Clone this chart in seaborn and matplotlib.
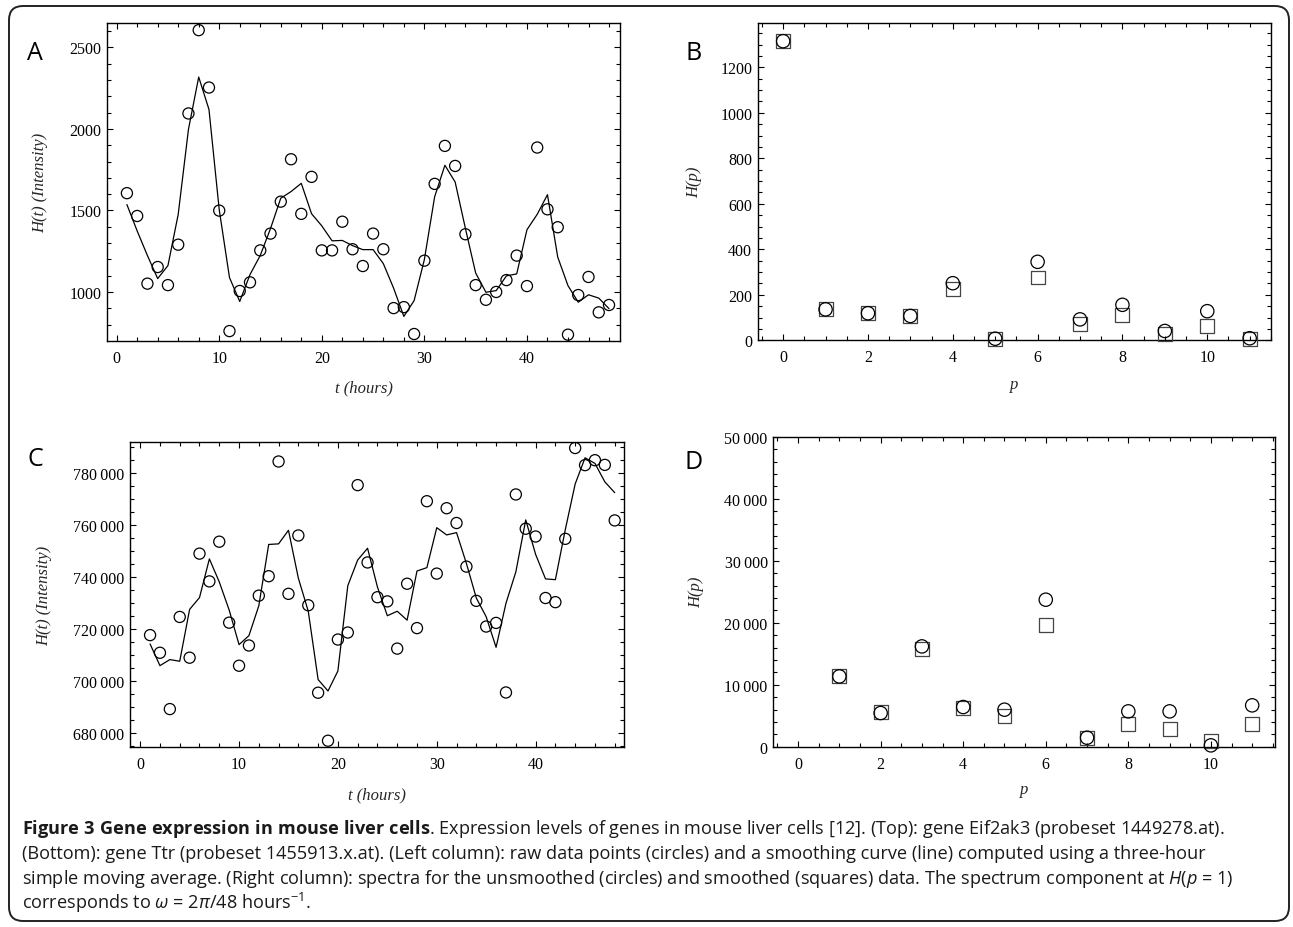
import numpy as np
import pandas as pd
import matplotlib
matplotlib.use("Agg")
import matplotlib.pyplot as plt
import matplotlib.ticker as mticker
from matplotlib.patches import FancyBboxPatch
from matplotlib.transforms import IdentityTransform
import seaborn as sns

# ---- data ----
hours = list(range(1, 49))

# top row: gene Eif2ak3, intensity per hour
eif2ak3 = [1606, 1466, 1051, 1153, 1042, 1290, 2095, 2606, 2254, 1499,
           760, 1006, 1059, 1255, 1358, 1554, 1814, 1479, 1706, 1255,
           1255, 1431, 1262, 1159, 1358, 1262, 901, 907, 742, 1192,
           1663, 1896, 1773, 1354, 1042, 952, 1000, 1073, 1223, 1036,
           1886, 1507, 1397, 738, 981, 1092, 875, 920]

# bottom row: gene Ttr
ttr = [717600, 710800, 689100, 724600, 708900, 749000, 738300, 753600, 722400, 705800,
       713600, 732800, 740300, 784500, 733500, 756000, 729100, 695400, 676900, 715900,
       718600, 775400, 745600, 732200, 730600, 712400, 737400, 720300, 769200, 741300,
       766500, 760800, 744000, 730800, 720900, 722300, 695500, 771800, 758600, 755600,
       731900, 730300, 754700, 789700, 783100, 785000, 783200, 761800]

# spectra (circles = unsmoothed, squares = smoothed)
p_top = list(range(0, 12))
spec_top_raw = [1315, 136, 119, 107, 251, 7, 345, 92, 156, 41, 128, 9]
spec_top_smooth = [1315, 136, 119, 107, 227, 4, 276, 70, 113, 26, 63, 7]

p_bot = list(range(1, 12))
spec_bot_raw = [11340, 5430, 16180, 6400, 5970, 23710, 1450, 5700, 5700, 215, 6670]
spec_bot_smooth = [11450, 5540, 15700, 6240, 5000, 19620, 1450, 3600, 2800, 900, 3600]

# three-hour simple moving average (as in the caption)
top_df = pd.DataFrame({"t": hours, "H": eif2ak3})
top_df["smooth"] = top_df["H"].rolling(3, center=True, min_periods=1).mean()
bot_df = pd.DataFrame({"t": hours, "H": ttr})
bot_df["smooth"] = bot_df["H"].rolling(3, center=True, min_periods=1).mean()

# ---- style ----
sns.set_theme(style="ticks")
plt.rcParams["font.family"] = ["Liberation Serif", "DejaVu Serif"]
plt.rcParams["mathtext.fontset"] = "custom"
plt.rcParams["mathtext.rm"] = "Open Sans"
plt.rcParams["mathtext.it"] = "Open Sans:italic"
plt.rcParams["mathtext.bf"] = "Open Sans:bold"

W, H = 1293, 928
fig = plt.figure(figsize=(W / 100, H / 100), dpi=100)
fig.patch.set_facecolor("white")

# rounded frame around everything
frame = FancyBboxPatch((9, 6), 1280, 915, boxstyle="round,pad=0,rounding_size=14",
                       transform=IdentityTransform(), fill=False,
                       edgecolor="#222222", linewidth=1.4)
fig.add_artist(frame)


def make_axes(x0, y0, x1, y1):
    return fig.add_axes([x0 / W, 1 - y1 / H, (x1 - x0) / W, (y1 - y0) / H])


def style_axes(ax, box, xmaj, xmin, ymaj, ymin, xlim, ylim, ylab, xlab, ylab_px, xlab_px):
    x0, y0, x1, y1 = box
    ax.set_xlim(*xlim)
    ax.set_ylim(*ylim)
    ax.xaxis.set_major_locator(mticker.MultipleLocator(xmaj))
    ax.xaxis.set_minor_locator(mticker.MultipleLocator(xmin))
    ax.yaxis.set_major_locator(mticker.MultipleLocator(ymaj))
    ax.yaxis.set_minor_locator(mticker.MultipleLocator(ymin))
    ax.tick_params(which="both", direction="in", top=True, right=True,
                   color="black", width=0.8, labelsize=11.5, labelcolor="black")
    ax.tick_params(which="major", length=4.6)
    ax.tick_params(which="minor", length=2.6)
    ax.tick_params(axis="x", pad=6.5)
    ax.tick_params(axis="y", pad=4)
    for s in ax.spines.values():
        s.set_linewidth(1.0)
        s.set_color("black")
    ax.set_facecolor("white")
    ax.set_ylabel(ylab, fontsize=12, style="italic", va="center")
    ax.set_xlabel(xlab, fontsize=12, style="italic", va="center")
    ax.yaxis.set_label_coords((ylab_px - x0) / (x1 - x0), 0.5)
    ax.xaxis.set_label_coords(0.5, (y1 - xlab_px) / (y1 - y0))


def spaced(v, pos):
    return f"{int(round(v)):,}".replace(",", "\u2009")


# ---- panel A ----
box_a = (106.7, 24.3, 620.3, 341.7)
ax_a = make_axes(*box_a)
sns.lineplot(data=top_df, x="t", y="smooth", color="black", linewidth=0.9, ax=ax_a)
sns.scatterplot(data=top_df, x="t", y="H", marker="o", s=64, fc="none", ec="black",
                linewidth=0.9, ax=ax_a, zorder=3)
style_axes(ax_a, box_a, 10, 2, 500, 100, (-0.97, 49.1), (701, 2648),
           "H(t) (Intensity)", "t (hours)", 40, 388)

# ---- panel B ----
box_b = (757.7, 24.0, 1271.3, 341.3)
ax_b = make_axes(*box_b)
sns.scatterplot(x=p_top, y=spec_top_smooth, marker="s", s=100, fc="none", ec="#444444",
                linewidth=0.9, ax=ax_b, clip_on=False, zorder=3)
sns.scatterplot(x=p_top, y=spec_top_raw, marker="o", s=92, fc="none", ec="black",
                linewidth=0.9, ax=ax_b, clip_on=False, zorder=4)
style_axes(ax_b, box_b, 2, 0.5, 200, 50, (-0.6, 11.51), (0, 1395),
           "H(p)", "p", 694, 385)

# ---- panel C ----
box_c = (130.0, 443.3, 624.3, 747.7)
ax_c = make_axes(*box_c)
sns.lineplot(data=bot_df, x="t", y="smooth", color="black", linewidth=0.9, ax=ax_c)
sns.scatterplot(data=bot_df, x="t", y="H", marker="o", s=64, fc="none", ec="black",
                linewidth=0.9, ax=ax_c, zorder=3)
style_axes(ax_c, box_c, 10, 2, 20000, 5000, (-1.03, 48.97), (674600, 791900),
           "H(t) (Intensity)", "t (hours)", 44, 795)
ax_c.yaxis.set_major_formatter(mticker.FuncFormatter(spaced))

# ---- panel D ----
box_d = (773.3, 437.7, 1275.3, 747.7)
ax_d = make_axes(*box_d)
sns.scatterplot(x=p_bot, y=spec_bot_smooth, marker="s", s=100, fc="none", ec="#444444",
                linewidth=0.9, ax=ax_d, clip_on=False, zorder=3)
sns.scatterplot(x=p_bot, y=spec_bot_raw, marker="o", s=92, fc="none", ec="black",
                linewidth=0.9, ax=ax_d, clip_on=False, zorder=4)
style_axes(ax_d, box_d, 2, 0.5, 10000, 2000, (-0.6, 11.56), (0, 50000),
           "H(p)", "p", 696, 790)
ax_d.yaxis.set_major_formatter(mticker.FuncFormatter(spaced))

# panel letters
for letter, (px, py) in zip("ABCD", [(35, 53), (694, 54), (35, 460), (694, 463)]):
    fig.text(px / W, 1 - py / H, letter, fontsize=18, family="Open Sans",
             ha="center", va="center", color="black")

# ---- caption ----
caption = [
    r"$\mathbf{Figure\ 3\ Gene\ expression\ in\ mouse\ liver\ cells}$. Expression levels of genes "
    r"in mouse liver cells [12]. (Top): gene Eif2ak3 (probeset 1449278.at).",
    "(Bottom): gene Ttr (probeset 1455913.x.at). (Left column): raw data points (circles) and a "
    "smoothing curve (line) computed using a three-hour",
    r"simple moving average. (Right column): spectra for the unsmoothed (circles) and smoothed "
    r"(squares) data. The spectrum component at $H$($p$ = 1)",
    r"corresponds to $\omega$ = 2$\pi$/48 hours$^{-1}$.",
]
for i, line in enumerate(caption):
    fig.text(22 / W, 1 - (834 + i * 25) / H, line, fontsize=13.1, family="Open Sans",
             ha="left", va="baseline", color="#1a1a1a")

fig.savefig("out.png", dpi=100, facecolor="white")
